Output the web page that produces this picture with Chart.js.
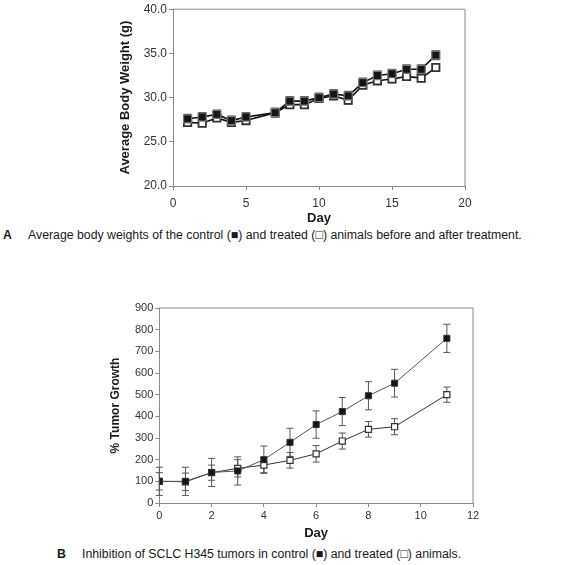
<!DOCTYPE html>
<html><head><meta charset="utf-8">
<script src="https://cdn.jsdelivr.net/npm/chart.js@4.4.0/dist/chart.umd.min.js"></script>
<style>
html,body{margin:0;padding:0;background:#fff;}
body{width:561px;height:565px;overflow:hidden;position:relative;font-family:"Liberation Sans",Arial,sans-serif;}
canvas{position:absolute;left:0;}
#ca{top:0}
#cb{top:290px}
.cap{position:absolute;font-size:12.3px;color:#1a1a1a;white-space:nowrap;line-height:14px;}
</style></head><body>
<canvas id="ca" width="561" height="226"></canvas>
<canvas id="cb" width="561" height="252"></canvas>
<div class="cap" style="left:3px;top:228px;font-weight:bold;">A</div>
<div class="cap" style="left:28px;top:228px;">Average body weights of the control (■) and treated (□) animals before and after treatment.</div>
<div class="cap" style="left:57px;top:547px;font-weight:bold;">B</div>
<div class="cap" style="left:82px;top:547px;">Inhibition of SCLC H345 tumors in control (■) and treated (□) animals.</div>
<script>
// ---- Chart A data: body weight ----
const daysA = [1,2,3,4,5,7,8,9,10,11,12,13,14,15,16,17,18];
const controlA = [27.6,27.8,28.1,27.4,27.8,28.3,29.6,29.6,30.0,30.4,30.2,31.7,32.5,32.7,33.2,33.2,34.8];
const treatedA = [27.2,27.1,27.7,27.2,27.4,28.3,29.2,29.2,29.9,30.2,29.7,31.4,31.9,32.1,32.4,32.2,33.4];
const controlAErr = [0.5,0.5,0.5,0.5,0.5,0.5,0.5,0.5,0.5,0.5,0.5,0.5,0.5,0.5,0.5,0.5,0.5];
const treatedAErr = [0.4,0.4,0.4,0.4,0.4,0.4,0.4,0.4,0.4,0.4,0.4,0.4,0.4,0.4,0.4,0.4,0.4];
const xTicksA = [0,5,10,15,20];
const yTicksA = [20,25,30,35,40];

// ---- Chart B data: % tumor growth ----
const daysB = [0,1,2,3,4,5,6,7,8,9,11];
const controlB = [100,100,141,148,200,280,362,422,495,553,760];
const treatedB = [100,98,140,160,175,197,227,286,340,352,500];
const controlBErr = [65,65,65,65,63,65,63,65,65,64,65];
const treatedBErr = [40,40,35,40,35,36,38,37,36,37,35];
const xTicksB = [0,2,4,6,8,10,12];
const yTicksB = [0,100,200,300,400,500,600,700,800,900];

Chart.defaults.font.family = "'Liberation Sans', Arial, sans-serif";
Chart.defaults.color = '#333';

function pts(xs, ys){ return xs.map((x,i)=>({x:x,y:ys[i]})); }

const errorBars = {
  id:'errorBars',
  beforeDatasetsDraw(chart){
    const ctx = chart.ctx, xs = chart.scales.x, ys = chart.scales.y;
    chart.data.datasets.forEach((ds,di)=>{
      if(!ds.errors) return;
      ctx.save();
      ctx.strokeStyle = ds.errColor; ctx.lineWidth = ds.errWidth;
      ds.data.forEach((p,i)=>{
        const e = ds.errors[i];
        const px = xs.getPixelForValue(p.x);
        const t = ys.getPixelForValue(p.y+e), b = ys.getPixelForValue(p.y-e);
        const c = ds.capHalf;
        ctx.beginPath();
        ctx.moveTo(px,t); ctx.lineTo(px,b);
        ctx.moveTo(px-c,t); ctx.lineTo(px+c,t);
        ctx.moveTo(px-c,b); ctx.lineTo(px+c,b);
        ctx.stroke();
      });
      ctx.restore();
    });
  }
};
const boxFrame = {
  id:'boxFrame',
  afterDraw(chart){
    const a = chart.chartArea, ctx = chart.ctx;
    ctx.save();
    ctx.strokeStyle = chart.options.frameColor; ctx.lineWidth = 1;
    ctx.beginPath();
    ctx.moveTo(a.left,a.top); ctx.lineTo(a.right,a.top); ctx.lineTo(a.right,a.bottom);
    ctx.stroke();
    ctx.restore();
  }
};

function makeChart(id, cfg){
  const g = cfg.axisColor;
  return new Chart(document.getElementById(id), {
    type:'line',
    data:{datasets:cfg.datasets},
    options:{
      responsive:false, animation:false, devicePixelRatio:1,
      frameColor:g,
      layout:{padding:cfg.pad},
      plugins:{legend:{display:false}, tooltip:{enabled:false}},
      scales:{
        x:{type:'linear', min:cfg.xTicks[0], max:cfg.xTicks[cfg.xTicks.length-1],
           afterBuildTicks:(s)=>{s.ticks = cfg.xTicks.map(v=>({value:v}));},
           afterFit:(s)=>{s.height = cfg.xH;},
           grid:{drawOnChartArea:false, drawTicks:true, tickLength:4, color:g},
           border:{display:true, color:g, width:1},
           ticks:{padding:cfg.xPad, font:{size:cfg.tickSize}, color:'#333', maxRotation:0,
                  callback:(v)=>String(v)},
           title:{display:true, text:'Day', font:{size:13, weight:'bold'}, color:'#1a1a1a',
                  padding:{top:0,bottom:cfg.xTitlePad}}},
        y:{type:'linear', min:cfg.yTicks[0], max:cfg.yTicks[cfg.yTicks.length-1],
           afterBuildTicks:(s)=>{s.ticks = cfg.yTicks.map(v=>({value:v}));},
           afterFit:(s)=>{s.width = cfg.yW;},
           grid:{drawOnChartArea:false, drawTicks:true, tickLength:4, color:g},
           border:{display:true, color:g, width:1},
           ticks:{padding:2, font:{size:cfg.tickSize}, color:'#333', callback:cfg.yFmt},
           title:{display:true, text:cfg.yTitle, font:{size:cfg.yTitleSize, weight:'bold'}, color:'#1a1a1a',
                  padding:{top:cfg.yTitlePad,bottom:0}}}
      }
    },
    plugins:[errorBars, boxFrame]
  });
}

makeChart('ca', {
  axisColor:'#8a8a8a', pad:{left:0,top:7,right:96,bottom:0}, xH:40, yW:173, xPad:6, xTitlePad:0,
  tickSize:12, xTicks:xTicksA, yTicks:yTicksA, yFmt:(v)=>Number(v).toFixed(1),
  yTitle:'Average Body Weight (g)', yTitleSize:13, yTitlePad:117.5,
  datasets:[
    {data:pts(daysA,controlA), errors:controlAErr, errColor:'#555', errWidth:1.2, capHalf:4,
     borderColor:'#111', borderWidth:1.6, pointStyle:'rect', pointRadius:5.7,
     pointBackgroundColor:'#151515', pointBorderColor:'#777', pointBorderWidth:1.2},
    {data:pts(daysA,treatedA), errors:treatedAErr, errColor:'#555', errWidth:1.2, capHalf:4,
     borderColor:'#111', borderWidth:1.6, pointStyle:'rect', pointRadius:5.2,
     pointBackgroundColor:'#fff', pointBorderColor:'#333', pointBorderWidth:1.8}
  ]
});

makeChart('cb', {
  axisColor:'#8a8a8a', pad:{left:0,top:18,right:88,bottom:0}, xH:39, yW:159.3, xPad:2, xTitlePad:1.2,
  tickSize:11, xTicks:xTicksB, yTicks:yTicksB, yFmt:(v)=>String(v),
  yTitle:'% Tumor Growth', yTitleSize:12, yTitlePad:108,
  datasets:[
    {data:pts(daysB,controlB), errors:controlBErr, errColor:'#555', errWidth:1, capHalf:3.5,
     borderColor:'#555', borderWidth:1, pointStyle:'rect', pointRadius:4.3,
     pointBackgroundColor:'#151515', pointBorderColor:'#333', pointBorderWidth:1},
    {data:pts(daysB,treatedB), errors:treatedBErr, errColor:'#555', errWidth:1, capHalf:3.5,
     borderColor:'#333', borderWidth:1, pointStyle:'rect', pointRadius:4.3,
     pointBackgroundColor:'#fff', pointBorderColor:'#333', pointBorderWidth:1.2}
  ]
});
</script>
</body></html>
